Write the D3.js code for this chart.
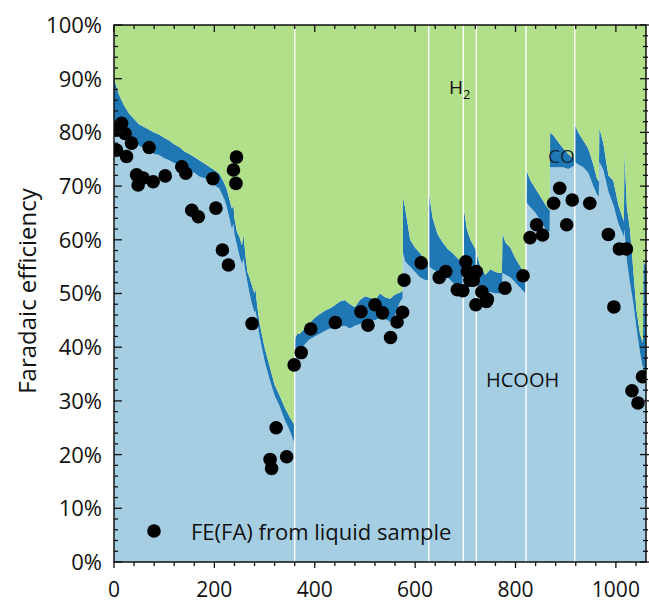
<!DOCTYPE html>
<html>
<head>
<meta charset="utf-8">
<script src="https://cdn.jsdelivr.net/npm/d3@7"></script>
<style>
  html, body { margin: 0; padding: 0; background: #ffffff; }
  svg { display: block; font-family: "Open Sans", "Noto Sans", sans-serif; }
</style>
</head>
<body>
<svg id="chart" width="649" height="604"></svg>
<script>
// Electrolysis time (x) with the Faradaic efficiency of each product (%).
// Repeated time values mark the step changes where the run was refreshed.
const time = [
  0, 5, 10, 20, 30, 40, 50, 60, 70, 80, 90, 100, 110, 120, 130, 140, 150, 160, 170, 180,
  190, 200, 210, 220, 225, 230, 235, 238, 240, 245, 250, 255, 258, 262, 266, 270, 275, 280, 282, 285,
  290, 300, 310, 320, 330, 340, 350, 358, 360,
  360.5, 365, 370, 380, 390, 400, 410, 420, 430, 440, 450, 460, 470, 480, 490, 500, 510, 520, 530, 540,
  550, 560, 570, 575, 576, 580, 590, 600, 610, 620, 626,
  627.5, 635, 645, 655, 665, 675, 685, 695,
  696.5, 703, 710, 716, 721,
  722.5, 730, 740, 750, 760, 770, 773, 774, 780, 790, 800, 810, 820,
  821.5, 830, 840, 850, 860, 868, 869, 875, 885, 895, 905, 917,
  918.5, 925, 935, 945, 955, 962, 966, 967, 975, 985, 995, 1005, 1012, 1016, 1017, 1022, 1028, 1035, 1041,
  1048, 1053, 1054, 1055, 1060
];
const feHCOOH = [
  80, 80.5, 80, 79.5, 79, 78.5, 77.5, 77, 76.5, 76, 75.8, 75.2, 74.8, 74.3, 74, 73.6, 73, 72.5, 71.8, 71.5,
  71, 70.2, 69.5, 67.5, 66, 64, 62, 63, 61, 59, 57, 55.5, 56.5, 54, 52, 50, 48, 46.5, 46.8, 45,
  42, 37.5, 34, 31, 29, 26.5, 24.5, 22.5, 22,
  38.5, 39, 39.5, 40.5, 41.5, 42, 42.5, 43, 43.5, 43.3, 43.8, 44, 43.5, 44, 44.3, 44.5, 45, 45, 45.5, 45.2,
  44.8, 46, 48.5, 49, 57.5, 56, 55, 54, 53, 52.5, 52.5,
  55, 54.5, 54, 53.5, 53, 52, 51, 50.5,
  56, 55, 53.5, 53, 52.5,
  52, 50.5, 50, 50.3, 50, 50, 50.2, 53.8, 53.5, 53, 52, 51, 50,
  67, 66, 65, 63.5, 62, 61.5, 73.5, 73.5, 73.5, 73.5, 73.2, 73.8,
  74.5, 74, 73.5, 72.5, 70, 68.5, 68, 74.5, 73, 69, 66.5, 63, 61.5, 60.5, 62, 56, 52, 48, 43.5,
  39, 36.5, 36.5, 36, 35
];
const feCO = [
  10, 8, 7, 5.5, 4.5, 4, 4, 4, 4, 4, 3.8, 3.8, 3.7, 3.5, 3.3, 2.9, 3, 2.9, 3, 2.7,
  2.6, 2.8, 2.8, 3, 3.3, 3.5, 3.8, 3.5, 3, 2.5, 3.5, 3.5, 4.5, 3, 2, 3, 3.5, 3.5, 4.2, 3,
  2.5, 2.5, 2.5, 2, 2, 2.3, 2.5, 3.3, 3,
  3, 3.5, 3, 3, 3, 3.5, 3.7, 3.8, 3.7, 4.5, 4.7, 4.8, 4.5, 3.5, 4.5, 5, 4.2, 3.8, 4.5, 4.1,
  4.2, 3.8, 1.7, 1.5, 10.5, 10, 5, 4.5, 4.5, 3.7, 3.2,
  13.7, 9.5, 7, 6, 5.3, 5.5, 5.5, 5.2,
  10.2, 7, 6.5, 6, 5.5,
  5.5, 4.5, 3.5, 4.2, 4, 3.8, 3.6, 7.4, 6, 5.5, 4.5, 4, 2.5,
  6, 5, 4.5, 4.5, 4.5, 4, 6.5, 6, 4.7, 3.5, 2.8, 1.2,
  6.9, 6, 5, 4.5, 4, 3, 2.8, 6.3, 5, 3, 4.5, 3.5, 3, 3, 14.4, 10, 10, 6, 3.5,
  3.5, 4.5, 4.5, 20, 20
];

// Formic acid Faradaic efficiency measured from liquid samples
const sampleTime = [
  5, 15, 22, 35, 5, 25, 70, 45, 58, 48, 78, 102, 135, 143, 155, 168, 197, 203, 216, 228,
  244, 238, 243, 275, 311, 314, 323, 344, 359, 373, 392, 441, 492, 506, 520, 535, 551, 564, 575, 578,
  612, 648, 661, 684, 695, 701, 704, 709, 716, 721, 722, 733, 742, 744, 779, 815, 829, 842, 854, 876,
  888, 902, 913, 948, 985, 996, 1007, 1021, 1032, 1044, 1053
];
const sampleFE = [
  80.4, 81.7, 79.8, 78, 76.7, 75.5, 77.2, 72.1, 71.5, 70.2, 70.8, 71.9, 73.6, 72.4, 65.5, 64.3, 71.4, 65.9, 58.1, 55.3,
  75.4, 73, 70.5, 44.4, 19.1, 17.4, 25, 19.6, 36.7, 39, 43.4, 44.6, 46.6, 44.1, 47.9, 46.4, 41.8, 44.7, 46.5, 52.5,
  55.7, 53, 54.1, 50.7, 50.5, 55.9, 54.1, 52.5, 52.5, 47.9, 54.1, 50.3, 48.5, 48.9, 51, 53.3, 60.4, 62.8, 60.9, 66.8,
  69.6, 62.8, 67.4, 66.8, 61, 47.5, 58.3, 58.3, 31.9, 29.6, 34.5
];

// Moments when the electrolyte was exchanged
const refreshTimes = [360, 627, 696, 722, 821, 918];

const products = ["HCOOH", "CO", "H2"];
const productColors = ["#a6cee3", "#1f78b4", "#b2df8a"];

const yTicks = [0, 10, 20, 30, 40, 50, 60, 70, 80, 90, 100];
const xTicks = [0, 200, 400, 600, 800, 1000];

const svg = d3.select("#chart");
const pL = 114, pR = 646, pT = 25, pB = 562;

const x = d3.scaleLinear().domain([0, 1060]).range([pL, pR]);
const y = d3.scaleLinear().domain([0, 100]).range([pB, pT]);

const rows = time.map((t, i) => ({
  time: t,
  HCOOH: feHCOOH[i],
  CO: feCO[i],
  H2: 100 - feHCOOH[i] - feCO[i]
}));

const layers = d3.stack().keys(products)(rows);

svg.append("defs").append("clipPath").attr("id", "plot-clip")
  .append("rect").attr("x", pL).attr("y", pT)
  .attr("width", pR - pL).attr("height", pB - pT);

const plot = svg.append("g").attr("clip-path", "url(#plot-clip)");

const area = d3.area()
  .x(d => x(d.data.time))
  .y0(d => y(d[0]))
  .y1(d => y(d[1]));

plot.selectAll("path.layer")
  .data(layers)
  .join("path")
  .attr("class", "layer")
  .attr("fill", (d, i) => productColors[i])
  .attr("d", area);

// electrolyte exchange markers
plot.selectAll("line.refresh")
  .data(refreshTimes)
  .join("line")
  .attr("class", "refresh")
  .attr("x1", d => x(d)).attr("x2", d => x(d))
  .attr("y1", pT).attr("y2", pB)
  .attr("stroke", "#ffffff")
  .attr("stroke-width", 1.4);

// liquid-sample points
plot.selectAll("circle.sample")
  .data(sampleTime.map((t, i) => [t, sampleFE[i]]))
  .join("circle")
  .attr("class", "sample")
  .attr("cx", d => x(d[0]))
  .attr("cy", d => y(d[1]))
  .attr("r", 6.8)
  .attr("fill", "#000000");

// product labels
svg.append("text").attr("x", 449).attr("y", 94).attr("font-size", 19).attr("fill", "#111")
  .text("H").append("tspan").attr("dy", 5).attr("font-size", 13).text("2");
svg.append("text").attr("x", 548).attr("y", 163).attr("font-size", 19).attr("fill", "#0b2a44").text("CO");
svg.append("text").attr("x", 486).attr("y", 387).attr("font-size", 20).attr("fill", "#111").text("HCOOH");

// frame
const axisColor = "#111";
svg.append("rect").attr("x", pL).attr("y", pT)
  .attr("width", pR - pL).attr("height", pB - pT)
  .attr("fill", "none").attr("stroke", axisColor).attr("stroke-width", 1.5);

const yMinor = d3.range(0, 101, 2).filter(v => v % 10 !== 0);
const xMinor = d3.range(0, 1060, 40).filter(v => v % 200 !== 0);

const ticks = svg.append("g").attr("stroke", axisColor).attr("stroke-width", 1.3);
// left and right axes
yTicks.forEach(v => {
  ticks.append("line").attr("x1", pL).attr("x2", pL + 8).attr("y1", y(v)).attr("y2", y(v));
  ticks.append("line").attr("x1", pR - 6).attr("x2", pR + 3).attr("y1", y(v)).attr("y2", y(v));
});
yMinor.forEach(v => {
  ticks.append("line").attr("x1", pL).attr("x2", pL + 4).attr("y1", y(v)).attr("y2", y(v));
  ticks.append("line").attr("x1", pR - 3).attr("x2", pR + 2).attr("y1", y(v)).attr("y2", y(v));
});
// bottom and top axes
xTicks.forEach(v => {
  ticks.append("line").attr("x1", x(v)).attr("x2", x(v)).attr("y1", pB).attr("y2", pB + 6);
  ticks.append("line").attr("x1", x(v)).attr("x2", x(v)).attr("y1", pT).attr("y2", pT + 7);
});
xMinor.forEach(v => {
  ticks.append("line").attr("x1", x(v)).attr("x2", x(v)).attr("y1", pB).attr("y2", pB + 4);
  ticks.append("line").attr("x1", x(v)).attr("x2", x(v)).attr("y1", pT).attr("y2", pT + 4);
});

// tick labels
svg.append("g").selectAll("text")
  .data(yTicks)
  .join("text")
  .attr("x", pL - 12)
  .attr("y", d => y(d))
  .attr("dy", "0.36em")
  .attr("text-anchor", "end")
  .attr("font-size", 22)
  .attr("fill", "#111")
  .text(d => d + "%");

svg.append("g").selectAll("text")
  .data(xTicks)
  .join("text")
  .attr("x", d => x(d))
  .attr("y", 597)
  .attr("text-anchor", "middle")
  .attr("font-size", 21)
  .attr("fill", "#111")
  .text(d => d);

// axis title
svg.append("text")
  .attr("transform", "translate(36,291) rotate(-90)")
  .attr("text-anchor", "middle")
  .attr("font-size", 24)
  .attr("fill", "#111")
  .text("Faradaic efficiency");

// legend
svg.append("circle").attr("cx", 154).attr("cy", 531).attr("r", 6.8).attr("fill", "#000");
svg.append("text").attr("x", 191).attr("y", 540).attr("font-size", 22).attr("fill", "#111")
  .text("FE(FA) from liquid sample");
</script>
</body>
</html>
